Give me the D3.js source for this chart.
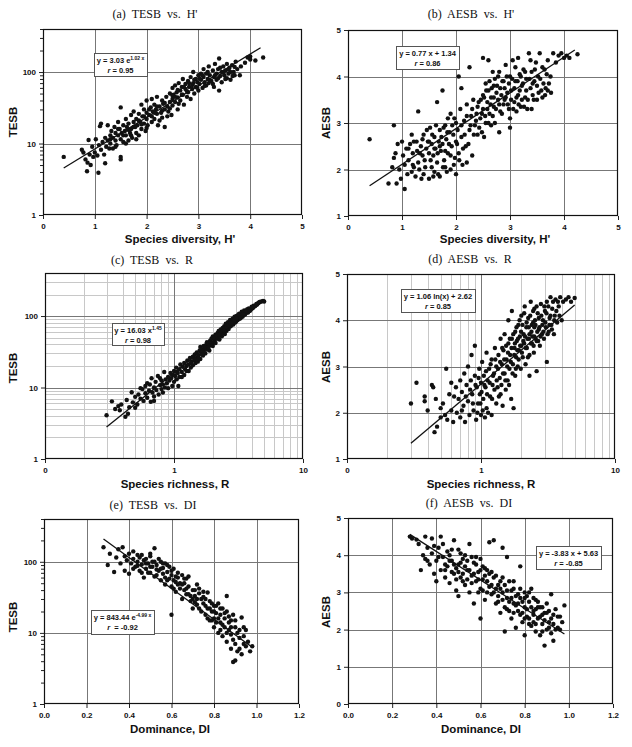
<!DOCTYPE html>
<html><head><meta charset="utf-8">
<script src="https://cdn.jsdelivr.net/npm/d3@7"></script>
<style>
html,body{margin:0;padding:0;background:#fff;}
svg{display:block;}
.tick text{font-family:Arial,"Liberation Sans",sans-serif;font-weight:bold;font-size:8px;fill:#111;}
</style>
</head><body>
<svg id="chart" width="632" height="747"></svg>
<script>
// ---------- tick values / labels ----------
const hTicks = [0,1,2,3,4,5];
const hLabels = ["0","1","2","3","4","5"];
const rTicks = [0.1,1,10];
const rLabels = ["0","1","10"];
const dTicks = [0,0.2,0.4,0.6,0.8,1.0,1.2];
const dLabels = ["0.0","0.2","0.4","0.6","0.8","1.0","1.2"];
const tesbTicks = [1,10,100];
const tesbLabels = ["1","10","100"];
const aesbTicksB = [1,2,3,4,5];
const aesbTicksF = [0,1,2,3,4,5];

// ---------- scatter data ----------
const tesbVsH = [[0.40,6.5],[0.75,8.2],[0.78,7.5],[0.82,6.0],[0.85,4.1],[0.86,5.4],[0.88,11.2],[0.9,7.0],[0.92,5.0],[0.95,9.0],[0.97,6.5],[1.0,7.5],[1.02,11.5],[1.05,6.8],[1.07,3.9],
[1.08,9.5],[1.1,17.5],[1.12,19],[1.12,8.2],[1.15,10.5],[1.18,7.0],[1.2,12],[1.2,5.3],[1.22,9],[1.25,11],[1.25,18],[1.28,8.5],[1.3,13],[1.3,10],[1.32,15],[1.35,12],[1.35,8.5],[1.38,17],[1.4,11],[1.4,14],[1.42,9.5],[1.45,13],[1.45,20],[1.48,16],[1.5,6.0],[1.5,6.5],[1.5,32],[1.5,11.5],[1.52,14],[1.55,18],
[1.55,10.5],[1.58,15],[1.6,13],[1.6,22],[1.62,17],[1.65,11],[1.65,19],[1.68,14],[1.7,25],[1.7,16],[1.72,12],[1.75,20],[1.75,28],[1.78,17],[1.8,14],[1.8,22],[1.82,18],[1.85,26],[1.85,13],[1.88,20],[1.9,35],[1.9,16],[1.92,24],[1.95,19],[1.95,30],[1.98,15],[2.0,22],[2.0,27],[2.0,40],[2.02,18],
[2.05,25],[2.08,32],[2.1,20],[2.1,42],[2.12,28],[2.15,35],[2.15,22],[2.18,30],[2.2,26],[2.2,45],[2.22,18],[2.25,33],[2.28,27],[2.3,40],[2.3,23],[2.32,36],[2.35,30],[2.35,17],[2.38,45],[2.4,33],[2.42,28],[2.45,50],[2.45,38],[2.48,25],[2.5,42],[2.5,60],[2.5,34],
[2.52,48],[2.55,38],[2.55,65],[2.58,52],[2.6,44],[2.6,30],[2.62,70],[2.65,55],[2.65,40],[2.68,62],[2.7,48],[2.7,80],[2.72,35],[2.75,58],[2.75,68],[2.78,45],[2.8,75],[2.8,52],[2.82,62],[2.85,85],[2.85,42],[2.88,58],[2.9,100],[2.9,70],[2.92,50],[2.95,80],[2.95,62],[2.98,72],[3.0,55],[3.0,90],
[3.02,68],[3.05,95],[3.05,78],[3.08,60],[3.1,85],[3.1,110],[3.12,72],[3.15,65],[3.15,95],[3.18,80],[3.2,120],[3.2,70],[3.22,90],[3.25,75],[3.28,105],[3.3,85],[3.3,62],[3.32,130],[3.35,95],[3.35,78],[3.38,110],[3.4,155],[3.4,55],[3.42,88],[3.45,100],[3.45,72],[3.48,120],[3.5,90],
[3.52,105],[3.55,82],[3.55,130],[3.58,95],[3.6,115],[3.62,78],[3.65,125],[3.68,100],[3.7,90],[3.72,140],[3.75,110],[3.8,90],[3.82,120],[3.9,135],[3.95,160],[4.0,165],[4.0,150],[4.1,145],[4.25,160],
[1.3,11.5],[1.4,9],[1.45,16],[1.55,13],[1.6,10],[1.65,15.5],[1.7,13],[1.75,17],[1.8,11.5],[1.85,21],[1.9,18.5],[1.95,24],[2.0,16.5],[2.05,30],[2.1,24],[2.15,27],[2.2,33],[2.25,21],[2.3,29],[2.35,37],[2.4,24],[2.45,31],[2.5,47],[2.55,45],[2.6,56],[2.62,36],[2.68,48],[2.72,62],[2.78,54],[2.82,70],[2.88,66],[2.92,78],[2.98,60],[3.02,82],[3.08,90],[3.12,64],[3.18,100],[3.22,77],[3.28,68],[3.32,90],[3.38,82],[3.42,115],[3.48,98],[3.52,80],[3.58,108],[3.62,100],[3.66,88],[3.7,118]];

const aesbVsH = [[0.40,2.65],[0.75,1.7],[0.82,2.05],[0.85,2.95],[0.85,2.25],[0.88,2.35],[0.9,1.7],[0.92,2.55],[0.95,2.0],[0.98,1.8],[1.0,2.6],[1.02,2.3],[1.05,1.58],[1.05,2.1],[1.08,2.45],[1.1,1.9],[1.12,2.2],[1.15,2.55],[1.18,1.95],[1.2,2.35],[1.2,2.1],[1.22,2.6],[1.25,1.85],[1.28,2.4],[1.3,3.25],[1.3,2.15],[1.32,2.0],[1.35,2.5],[1.38,2.3],[1.4,1.9],[1.4,2.75],[1.42,2.2],[1.45,2.45],[1.48,2.6],[1.5,1.8],[1.5,2.35],[1.52,2.9],[1.55,2.05],[1.55,2.55],[1.58,2.3],[1.6,2.7],[1.6,1.95],[1.62,2.45],[1.65,3.45],[1.65,2.15],[1.68,2.6],[1.7,2.85],[1.7,1.85],[1.72,2.4],[1.75,3.7],[1.75,2.55],[1.78,2.2],[1.8,2.95],[1.8,2.05],[1.82,2.65],[1.85,3.1],[1.85,2.35],[1.88,2.8],[1.9,2.0],[1.9,3.2],[1.92,2.5],[1.95,2.75],[1.98,2.25],[2.0,1.9],[2.0,3.0],[2.02,2.55],[2.05,4.0],[2.05,2.35],[2.08,3.3],[2.1,3.75],[2.1,2.7],[2.12,2.1],[2.15,3.05],[2.18,2.5],[2.2,3.4],[2.2,2.15],[2.25,4.2],[2.25,2.85],[2.28,3.15],[2.3,2.3],[2.32,3.5],[2.35,2.95],[2.38,3.2],[2.4,2.75],[2.42,3.45],[2.45,3.1],[2.48,2.8],[2.5,4.4],[2.5,3.6],[2.5,3.3],[2.52,2.7],[2.55,3.85],[2.55,3.0],[2.58,3.45],[2.6,4.35],[2.6,3.7],[2.62,3.2],[2.65,3.55],[2.65,2.95],[2.68,4.1],[2.7,3.35],[2.7,3.8],[2.72,3.0],[2.75,3.65],[2.78,4.0],[2.8,2.8],[2.8,3.4],[2.82,3.75],[2.85,3.2],[2.88,3.9],[2.9,3.5],[2.92,4.25],[2.95,3.65],[2.98,3.3],[3.0,2.9],[3.0,3.1],[3.0,4.0],[3.02,3.7],[3.05,4.35],[3.08,3.45],[3.1,3.9],[3.12,3.25],[3.15,4.4],[3.15,3.6],[3.18,4.05],[3.2,3.35],[3.22,3.8],[3.25,4.15],[3.28,3.55],[3.3,3.95],[3.32,3.3],[3.35,4.5],[3.38,3.75],[3.4,3.3],[3.4,4.1],[3.42,3.6],[3.45,3.9],[3.48,4.3],[3.5,3.5],[3.52,4.0],[3.55,4.5],[3.58,3.7],[3.6,4.2],[3.62,3.85],[3.65,3.6],[3.68,4.05],[3.7,3.7],[3.75,4.0],[3.8,4.5],[3.85,4.3],[3.9,4.45],[3.95,4.5],[4.0,4.4],[4.05,4.45],[4.1,4.4],[4.25,4.48],
[1.12,2.45],[1.18,2.75],[1.22,2.05],[1.27,2.6],[1.33,2.35],[1.36,1.8],[1.38,2.65],[1.43,2.05],[1.46,2.85],[1.5,2.6],[1.53,2.2],[1.56,2.75],[1.58,1.85],[1.6,2.45],[1.63,2.95],[1.66,2.35],[1.67,1.9],[1.7,2.5],[1.73,2.7],[1.76,2.05],[1.77,2.9],[1.8,2.4],[1.83,1.95],[1.84,2.8],[1.87,2.55],[1.9,2.3],[1.93,2.95],[1.96,2.1],[1.97,3.1],[2.0,2.6],[2.03,2.85],[2.06,2.2],[2.1,2.95],[2.13,2.45],[2.16,2.75],[2.2,3.15],[2.23,2.55],[2.27,2.95],[2.3,3.3],[2.33,2.75],[2.37,3.05],[2.4,3.35],[2.43,2.9],[2.46,3.5],[2.48,3.2],[2.52,3.55],[2.54,3.15],[2.56,3.7],[2.58,3.3],[2.6,3.0],[2.62,3.9],[2.64,3.4],[2.66,3.75],[2.68,3.15],[2.7,3.55],[2.72,3.95],[2.74,3.3],[2.76,3.8],[2.78,3.5],[2.8,4.1],[2.82,3.25],[2.84,3.6],[2.86,3.9],[2.88,3.4],[2.9,3.75],[2.92,3.55],[2.94,4.0],[2.96,3.4],[2.98,3.85],[3.02,3.5],[3.04,3.95],[3.06,3.3],[3.08,3.75],[3.1,4.2],[3.12,3.55],[3.14,3.9],[3.16,3.4],[3.18,3.7],[3.2,4.0],[3.22,3.5],[3.24,3.85],[3.26,3.35],[3.28,4.1],[3.3,3.7],[3.33,3.5],[3.36,3.95],[3.38,4.35],[3.42,3.85],[3.44,3.5],[3.46,4.15],[3.5,3.8],[3.53,3.65],[3.56,3.95],[3.6,3.55],[3.64,4.15],[3.66,3.75],[3.7,4.35],[3.72,3.85],[3.76,3.65]];

const tesbVsR = [[0.30,4.1],[0.33,6.4],[0.37,5.5],[0.38,4.8],[0.39,5.8],[0.42,3.9],[0.43,6.7],[0.45,5.3],[0.47,8.6],[0.48,6.2],[0.5,7.4],[0.52,5.8],[0.53,8.0],[0.55,7.0],[0.57,9.5],[0.58,6.5],[0.6,8.3],[0.6,10.5],[0.62,7.2],[0.64,9.0],[0.65,11],[0.66,6.3],[0.68,8.5],[0.7,10],[0.7,7.5],[0.72,12],[0.73,9.2],[0.75,14.5],[0.76,8.0],[0.78,10.8],[0.8,9.5],[0.8,12.5],[0.82,11],[0.84,16.5],[0.85,10],[0.86,13],[0.88,11.5],[0.9,14],[0.9,9.8],[0.92,12.5],[0.94,16],[0.95,13.5],[0.97,10.5],[0.98,15],[1.0,17],[1.0,12],[1.02,14.5],[1.04,19],[1.05,13],[1.07,16],[1.08,10.5],[1.1,18],[1.1,14],[1.12,21],[1.15,16.5],[1.17,19.5],[1.2,15],[1.2,22],[1.22,18],[1.25,20],[1.27,24],[1.3,17],[1.3,21],[1.33,26],[1.35,19],[1.37,23],[1.4,20.5],[1.4,27],[1.43,24],[1.45,29],[1.47,22],[1.5,26],[1.5,31],[1.53,23],[1.55,28],[1.58,33],[1.6,25],[1.6,37],[1.63,30],[1.65,34],[1.68,28],[1.7,32],[1.7,38],[1.73,35],[1.75,30],[1.78,40],[1.8,34],[1.8,43],[1.83,37],[1.85,41],[1.88,33],[1.9,45],[1.92,39],[1.95,48],[1.98,42],[2.0,38],[2.0,52],[2.05,45],[2.08,50],[2.1,55],[2.1,42],[2.15,48],[2.18,58],[2.2,52],[2.22,62],[2.25,47],[2.28,55],[2.3,65],[2.32,58],[2.35,52],[2.38,68],[2.4,60],[2.45,72],[2.48,56],[2.5,65],[2.52,78],[2.55,62],[2.6,70],[2.62,82],[2.65,66],[2.7,76],[2.72,88],[2.75,72],[2.8,80],[2.85,92],[2.88,76],[2.9,85],[2.95,98],[3.0,82],[3.0,90],[3.05,100],[3.1,88],[3.15,96],[3.2,108],[3.25,92],[3.3,102],[3.35,115],[3.4,98],[3.45,110],[3.5,120],[3.55,105],[3.6,115],[3.7,125],[3.75,112],[3.8,128],[3.9,120],[4.0,135],[4.05,128],[4.15,140],[4.25,138],[4.35,148],[4.5,152],[4.6,158],[4.75,160],[4.9,162],[5.0,160],
[1.05,16.5],[1.15,14],[1.25,17],[1.35,22],[1.45,25],[1.55,25],[1.65,29],[1.75,36],[1.85,36],[1.95,40],[2.05,50],[2.15,53],[2.25,55],[2.35,60],[2.45,63],[2.55,70],[2.65,75],[2.75,80],[2.85,80],[2.95,88],[3.05,95],[3.15,104],[3.3,95],[3.45,104],[3.65,120],[3.85,118],[4.1,132],[4.4,145],
[0.35,5.0],[0.44,4.3],[0.5,5.2],[0.55,9.8],[0.62,11.5],[0.67,13.5],[0.7,6.5],[0.78,13.5],[0.82,8.5]];

const aesbVsR = [[0.30,2.2],[0.33,2.65],[0.38,2.35],[0.38,2.25],[0.4,2.05],[0.43,2.6],[0.44,2.55],[0.45,1.58],[0.46,2.3],[0.47,1.7],[0.5,1.9],[0.5,2.1],[0.52,2.2],[0.54,1.95],[0.55,2.95],[0.56,1.85],[0.58,2.4],[0.6,2.65],[0.6,2.05],[0.62,1.8],[0.63,2.35],[0.65,2.55],[0.66,2.0],[0.68,2.3],[0.7,2.7],[0.7,1.9],[0.72,2.45],[0.74,2.15],[0.75,2.85],[0.76,1.8],[0.78,2.6],[0.8,2.25],[0.8,3.0],[0.82,1.95],[0.84,2.7],[0.85,3.25],[0.86,2.4],[0.88,2.05],[0.9,3.45],[0.9,2.8],[0.92,1.85],[0.93,2.55],[0.95,2.2],[0.97,2.95],[0.98,2.4],[1.0,2.65],[1.0,1.95],[1.02,3.1],[1.04,2.3],[1.05,2.8],[1.07,1.9],[1.08,2.55],[1.1,3.3],[1.1,2.1],[1.12,2.7],[1.15,2.95],[1.17,2.35],[1.2,3.15],[1.2,1.95],[1.22,2.6],[1.25,2.85],[1.27,3.4],[1.3,2.2],[1.3,3.0],[1.33,2.55],[1.35,3.25],[1.38,2.75],[1.4,3.6],[1.4,2.4],[1.43,3.05],[1.45,2.15],[1.47,3.35],[1.5,2.85],[1.5,3.7],[1.53,2.5],[1.55,3.15],[1.58,2.7],[1.6,3.5],[1.6,4.0],[1.63,2.95],[1.65,3.25],[1.68,2.3],[1.7,4.2],[1.7,3.6],[1.73,3.05],[1.75,2.1],[1.78,3.4],[1.8,2.8],[1.8,3.75],[1.83,3.2],[1.85,3.55],[1.88,3.0],[1.9,3.9],[1.92,3.35],[1.95,3.65],[1.98,2.95],[2.0,3.45],[2.0,4.1],[2.05,3.2],[2.08,3.7],[2.1,3.5],[2.12,4.3],[2.15,3.05],[2.18,3.85],[2.2,3.4],[2.25,4.05],[2.28,3.6],[2.3,2.8],[2.3,3.25],[2.35,4.4],[2.38,3.75],[2.4,3.5],[2.45,3.95],[2.48,3.3],[2.5,4.25],[2.5,3.65],[2.55,3.9],[2.6,2.9],[2.6,3.55],[2.65,4.15],[2.7,3.8],[2.75,3.45],[2.8,4.35],[2.85,3.7],[2.9,4.0],[2.95,3.6],[3.0,4.2],[3.05,3.85],[3.1,3.1],[3.1,4.4],[3.2,3.75],[3.25,4.05],[3.3,4.5],[3.35,3.9],[3.4,4.25],[3.5,3.7],[3.55,4.1],[3.6,4.45],[3.7,3.95],[3.8,4.3],[3.9,4.5],[4.0,4.0],[4.1,4.4],[4.3,4.45],[4.5,4.5],[4.7,4.4],[5.0,4.48],
[0.72,2.05],[0.77,2.35],[0.83,2.5],[0.87,2.2],[0.91,2.6],[0.94,2.0],[0.96,2.75],[0.99,2.2],[1.01,2.45],[1.03,2.05],[1.06,2.6],[1.09,2.9],[1.11,2.4],[1.13,2.0],[1.16,2.65],[1.18,3.05],[1.21,2.3],[1.23,2.8],[1.26,2.5],[1.28,3.15],[1.31,2.7],[1.34,2.95],[1.36,2.35],[1.39,3.1],[1.42,2.6],[1.44,3.4],[1.46,2.85],[1.49,3.15],[1.52,2.7],[1.54,3.45],[1.57,3.0],[1.59,3.3],[1.62,2.6],[1.64,3.6],[1.67,3.1],[1.69,3.4],[1.72,2.85],[1.74,3.7],[1.77,3.25],[1.79,3.5],[1.82,2.95],[1.84,3.85],[1.87,3.35],[1.89,3.6],[1.91,3.15],[1.94,4.0],[1.96,3.45],[1.99,3.75],[2.02,3.3],[2.04,3.9],[2.07,3.55],[2.1,4.15],[2.13,3.65],[2.16,3.4],[2.19,3.95],[2.22,3.6],[2.24,3.2],[2.27,3.85],[2.3,3.7],[2.33,4.1],[2.36,3.5],[2.39,3.9],[2.42,3.65],[2.45,4.2],[2.47,3.45],[2.5,3.85],[2.53,4.0],[2.56,3.6],[2.6,4.3],[2.63,3.75],[2.67,3.55],[2.7,4.05],[2.73,3.85],[2.78,3.65],[2.82,4.1],[2.87,3.9],[2.92,3.75],[2.97,4.3],[3.02,3.95],[3.08,4.15],[3.14,3.7],[3.18,4.3],[3.24,3.9],[3.3,4.1],[3.38,3.8],[3.45,4.4],[3.52,4.0],[3.65,4.2],[3.75,4.4],[3.85,4.1]];

const tesbVsDI = [[0.28,160],[0.30,90],[0.31,130],[0.33,72],[0.34,115],[0.35,150],[0.36,95],[0.37,160],[0.38,75],[0.38,120],[0.39,105],[0.4,130],[0.4,68],[0.41,95],[0.42,140],[0.42,110],[0.43,85],[0.44,100],[0.45,115],[0.45,75],[0.46,92],[0.47,60],[0.47,105],[0.48,80],[0.49,95],[0.5,120],[0.5,70],[0.5,130],[0.51,85],[0.52,155],[0.52,62],[0.53,90],[0.54,75],[0.55,100],[0.55,55],[0.56,68],[0.56,82],[0.57,48],[0.58,72],[0.58,90],[0.59,58],[0.6,65],[0.6,18],[0.6,45],[0.61,80],[0.62,52],[0.62,38],[0.63,60],[0.64,42],[0.65,65],[0.65,30],[0.66,50],[0.67,35],[0.67,58],[0.68,45],[0.69,28],[0.7,40],[0.7,22],[0.71,33],[0.72,48],[0.72,25],[0.73,36],[0.74,20],[0.74,30],[0.75,26],[0.75,38],[0.76,18],[0.77,37],[0.77,22],[0.78,15],[0.78,28],[0.79,20],[0.8,24],[0.8,12],[0.8,16],[0.81,19],[0.82,10],[0.82,26],[0.83,14],[0.83,18],[0.84,9],[0.84,22],[0.85,12],[0.85,16],[0.86,33],[0.86,7.5],[0.87,11],[0.87,14],[0.88,6],[0.88,9.5],[0.89,3.9],[0.89,18],[0.9,4.1],[0.9,7],[0.9,12],[0.91,5.5],[0.92,8.5],[0.92,6],[0.93,16.5],[0.93,5],[0.94,9],[0.95,11],[0.95,6.5],[0.96,7.5],[0.98,6.5],
[0.44,88],[0.46,125],[0.48,110],[0.49,70],[0.51,100],[0.53,78],[0.54,110],[0.57,95],[0.59,85],[0.61,55],[0.63,70],[0.64,50],[0.66,40],[0.68,62],[0.69,33],[0.71,27],[0.73,42],[0.76,30],[0.79,26],[0.81,14],[0.83,22],[0.84,13],[0.86,20],[0.88,15],[0.91,10],[0.94,12],[0.97,5.5],
[0.42,80],[0.44,125],[0.46,70],[0.48,95],[0.5,85],[0.52,100],[0.53,65],[0.55,80],[0.56,95],[0.57,60],[0.58,55],[0.6,75],[0.61,42],[0.62,62],[0.63,48],[0.65,48],[0.66,58],[0.67,42],[0.68,35],[0.7,30],[0.71,40],[0.72,30],[0.73,22],[0.75,32],[0.76,24],[0.77,16],[0.78,22],[0.79,15],[0.8,20],[0.81,24],[0.82,16],[0.83,11],[0.85,19],[0.86,10],[0.87,17],[0.88,12],[0.89,8],[0.9,15],[0.92,11],[0.94,7]];

const aesbVsDI = [[0.28,4.5],[0.29,4.45],[0.31,4.42],[0.32,4.3],[0.33,3.6],[0.34,4.0],[0.35,4.5],[0.35,3.9],[0.36,4.2],[0.37,3.75],[0.38,4.45],[0.38,4.05],[0.39,3.5],[0.4,3.3],[0.4,3.85],[0.41,4.2],[0.42,4.5],[0.42,3.6],[0.43,3.95],[0.44,3.4],[0.45,4.1],[0.45,3.7],[0.46,3.25],[0.47,3.85],[0.48,4.4],[0.48,3.5],[0.49,3.05],[0.5,3.75],[0.5,2.9],[0.5,4.15],[0.51,3.4],[0.52,3.9],[0.53,3.2],[0.54,3.6],[0.55,4.3],[0.55,3.0],[0.56,3.45],[0.57,2.7],[0.57,3.8],[0.58,3.3],[0.59,3.55],[0.6,2.3],[0.6,3.1],[0.6,3.9],[0.61,3.35],[0.62,2.8],[0.63,3.6],[0.64,4.35],[0.64,3.15],[0.65,2.95],[0.66,4.4],[0.66,3.4],[0.67,2.7],[0.68,3.2],[0.69,2.45],[0.7,4.2],[0.7,3.0],[0.71,2.6],[0.71,1.95],[0.72,3.95],[0.72,2.85],[0.73,3.3],[0.74,2.3],[0.75,2.7],[0.75,3.1],[0.76,2.05],[0.77,2.5],[0.78,3.7],[0.78,2.85],[0.79,2.2],[0.8,2.6],[0.8,1.85],[0.8,3.0],[0.81,2.35],[0.82,2.75],[0.83,2.1],[0.83,3.1],[0.84,2.5],[0.85,1.95],[0.85,2.8],[0.86,2.3],[0.87,2.6],[0.87,1.85],[0.88,2.15],[0.89,1.57],[0.89,2.45],[0.9,2.0],[0.9,2.7],[0.91,2.2],[0.92,2.95],[0.92,1.9],[0.93,1.7],[0.93,2.4],[0.94,2.55],[0.95,2.05],[0.96,2.35],[0.98,2.65],
[0.44,3.75],[0.46,4.0],[0.47,3.55],[0.49,3.65],[0.51,4.05],[0.52,3.5],[0.53,3.7],[0.54,3.35],[0.56,3.95],[0.58,3.75],[0.59,3.0],[0.61,3.7],[0.62,3.45],[0.63,3.0],[0.65,3.55],[0.67,3.1],[0.68,2.9],[0.69,3.3],[0.72,2.55],[0.73,2.75],[0.74,3.05],[0.76,2.65],[0.77,2.95],[0.79,2.45],[0.81,2.9],[0.82,2.3],[0.84,2.2],[0.86,2.6],[0.88,2.4],[0.91,2.5],
[0.36,3.85],[0.39,4.25],[0.41,3.95],[0.43,4.3],[0.44,3.6],[0.46,3.85],[0.47,4.15],[0.48,3.75],[0.49,3.35],[0.5,3.55],[0.51,3.8],[0.52,3.3],[0.53,4.0],[0.54,3.85],[0.55,3.6],[0.56,3.25],[0.57,3.5],[0.58,3.95],[0.59,3.35],[0.6,3.6],[0.61,3.05],[0.62,3.65],[0.63,3.3],[0.64,3.5],[0.65,3.2],[0.66,3.0],[0.67,3.45],[0.68,2.75],[0.69,3.1],[0.7,2.8],[0.7,3.4],[0.71,3.2],[0.72,3.05],[0.73,2.5],[0.74,2.85],[0.75,2.45],[0.75,3.3],[0.76,2.9],[0.77,2.7],[0.78,2.4],[0.78,3.1],[0.79,2.75],[0.8,2.3],[0.8,2.85],[0.81,2.55],[0.82,2.15],[0.82,3.0],[0.83,2.6],[0.84,2.4],[0.84,2.85],[0.85,2.55],[0.85,2.15],[0.86,2.75],[0.87,2.35],[0.88,2.6],[0.88,1.95],[0.89,2.25],[0.9,2.45],[0.91,2.05],[0.92,2.3],[0.93,2.15],[0.94,2.0],[0.95,2.35],[0.96,2.0],[0.97,2.2]];

// ---------- fitted trend line end points (from the printed equations) ----------
const fitA = [[0.4,4.55],[4.2,219]];
const fitB = [[0.4,1.65],[4.2,4.57]];
const fitC = [[0.3,2.8],[5.0,165]];
const fitD = [[0.3,1.34],[5.0,4.33]];
const fitE = [[0.28,209],[0.98,6.3]];
const fitF = [[0.28,4.56],[0.98,1.88]];

// ---------- annotation texts ----------
const eqA = ["y = 3.03 e", "1.02 x"], rA = " = 0.95";
const eqB = ["y = 0.77 x + 1.34", ""], rB = " = 0.86";
const eqC = ["y = 16.03 x", "1.45"], rC = " = 0.98";
const eqD = ["y = 1.06 ln(x) + 2.62", ""], rD = " = 0.85";
const eqE = ["y = 843.44 e", "-4.99 x"], rE = "  = -0.92";
const eqF = ["y = -3.83 x + 5.63", ""], rF = " = -0.85";

const logMinor = (lo, hi) => { const out=[]; for (let e=lo;e<hi;e++){ for(let m=2;m<=9;m++){ out.push(+(m*Math.pow(10,e)).toPrecision(3)); } } return out; };

const panels = [
 {title:"(a)  TESB  vs.  H'", tx:155, ty:18, box:[43,29,302,215], xLog:false, xDom:[0,5], xT:hTicks, xL:hLabels,
  yLog:true, yDom:[1,400], yT:tesbTicks, yL:tesbLabels, yMinorTicks:logMinor(0,3).filter(v=>v<=400),
  xTitle:"Species diversity, H'", xtx:180, xty:243, yTitle:"TESB", ytx:13, yty:122,
  pts:tesbVsH, fit:fitA, eq:eqA, r:rA, ann:[94,53,147,76]},
 {title:"(b)  AESB  vs.  H'", tx:471, ty:18, box:[348,30,618,216], xLog:false, xDom:[0,5], xT:hTicks, xL:hLabels,
  yLog:false, yDom:[1,5], yT:aesbTicksB, yL:aesbTicksB.map(String),
  xTitle:"Species diversity, H'", xtx:495, xty:243, yTitle:"AESB", ytx:326, yty:123,
  pts:aesbVsH, fit:fitB, eq:eqB, r:rB, ann:[396,46,459,69]},
 {title:"(c)  TESB  vs.  R", tx:152, ty:264, box:[45,273,303,459], xLog:true, xDom:[0.1,10], xT:rTicks, xL:rLabels,
  xMinorGrid:logMinor(-1,1), yLog:true, yDom:[1,400], yT:tesbTicks, yL:tesbLabels, yMinorGrid:logMinor(0,3).filter(v=>v<=400),
  xTitle:"Species richness, R", xtx:175, xty:488, yTitle:"TESB", ytx:13, yty:368,
  pts:tesbVsR, fit:fitC, eq:eqC, r:rC, ann:[112,323,164,345]},
 {title:"(d)  AESB  vs.  R", tx:470, ty:263, box:[347,274,615,459], xLog:true, xDom:[0.1,10], xT:rTicks, xL:rLabels,
  xMinorGrid:logMinor(-1,1), yLog:false, yDom:[1,5], yT:aesbTicksB, yL:aesbTicksB.map(String),
  xTitle:"Species richness, R", xtx:481, xty:488, yTitle:"AESB", ytx:326, yty:367,
  pts:aesbVsR, fit:fitD, eq:eqD, r:rD, ann:[401,289,475,312]},
 {title:"(e)  TESB  vs.  DI", tx:153, ty:509, box:[44,519,299,704], xLog:false, xDom:[0,1.2], xT:dTicks, xL:dLabels,
  yLog:true, yDom:[1,400], yT:tesbTicks, yL:tesbLabels, yMinorTicks:logMinor(0,3).filter(v=>v<=400),
  xTitle:"Dominance, DI", xtx:170, xty:733, yTitle:"TESB", ytx:13, yty:617,
  pts:tesbVsDI, fit:fitE, eq:eqE, r:rE, ann:[91,610,154,634]},
 {title:"(f)  AESB  vs.  DI", tx:469, ty:507, box:[348,518,613,704], xLog:false, xDom:[0,1.2], xT:dTicks, xL:dLabels,
  yLog:false, yDom:[0,5], yT:aesbTicksF, yL:aesbTicksF.map(String),
  xTitle:"Dominance, DI", xtx:481, xty:733, yTitle:"AESB", ytx:326, yty:612,
  pts:aesbVsDI, fit:fitF, eq:eqF, r:rF, ann:[536,546,601,569]}
];

const svg = d3.select("#chart");
svg.append("rect").attr("width",632).attr("height",747).attr("fill","#fff");
const sans = "Arial,'Liberation Sans',sans-serif";

panels.forEach(p => {
  const [x0,y0,x1,y1] = p.box;
  const x = (p.xLog ? d3.scaleLog() : d3.scaleLinear()).domain(p.xDom).range([x0,x1]);
  const y = (p.yLog ? d3.scaleLog() : d3.scaleLinear()).domain(p.yDom).range([y1,y0]);
  const g = svg.append("g");

  if (p.xMinorGrid) g.selectAll(null).data(p.xMinorGrid).join("line")
     .attr("x1",d=>Math.round(x(d))+0.5).attr("x2",d=>Math.round(x(d))+0.5).attr("y1",y0).attr("y2",y1)
     .attr("stroke","#c8c8c8").attr("stroke-width",1);
  if (p.yMinorGrid) g.selectAll(null).data(p.yMinorGrid).join("line")
     .attr("y1",d=>Math.round(y(d))+0.5).attr("y2",d=>Math.round(y(d))+0.5).attr("x1",x0).attr("x2",x1)
     .attr("stroke","#c8c8c8").attr("stroke-width",1);
  g.selectAll(null).data(p.xT.filter(v=>x(v)>x0+1 && x(v)<x1-1)).join("line")
     .attr("x1",d=>Math.round(x(d))+0.5).attr("x2",d=>Math.round(x(d))+0.5).attr("y1",y0).attr("y2",y1)
     .attr("stroke","#777").attr("stroke-width",1);
  g.selectAll(null).data(p.yT.filter(v=>y(v)<y1-1 && y(v)>y0+1)).join("line")
     .attr("y1",d=>Math.round(y(d))+0.5).attr("y2",d=>Math.round(y(d))+0.5).attr("x1",x0).attr("x2",x1)
     .attr("stroke","#777").attr("stroke-width",1);

  const xa = g.append("g").attr("transform",`translate(0,${y1})`)
     .call(d3.axisBottom(x).tickValues(p.xT).tickFormat((d,i)=>p.xL[i]).tickSize(4).tickPadding(4));
  const ya = g.append("g").attr("transform",`translate(${x0},0)`)
     .call(d3.axisLeft(y).tickValues(p.yT).tickFormat((d,i)=>p.yL[i]).tickSize(4).tickPadding(3));
  [xa,ya].forEach(a=>{ a.select(".domain").remove(); a.selectAll(".tick line").attr("stroke","#222"); });
  if (p.yMinorTicks) {
    const ym = g.append("g").attr("transform",`translate(${x0},0)`)
      .call(d3.axisLeft(y).tickValues(p.yMinorTicks).tickFormat("").tickSize(3));
    ym.select(".domain").remove(); ym.selectAll(".tick line").attr("stroke","#222");
  }

  g.append("rect").attr("x",x0+0.5).attr("y",y0+0.5).attr("width",x1-x0-1).attr("height",y1-y0-1)
   .attr("fill","none").attr("stroke","#111").attr("stroke-width",1.2);

  g.selectAll(null).data(p.pts).join("circle")
   .attr("cx",d=>x(d[0])).attr("cy",d=>y(d[1])).attr("r",2.2).attr("fill","#111");

  g.append("path").datum(p.fit)
   .attr("d", d3.line().x(d=>x(d[0])).y(d=>y(d[1])))
   .attr("stroke","#111").attr("stroke-width",1.3).attr("fill","none");

  const [ax0,ay0,ax1,ay1] = p.ann;
  g.append("rect").attr("x",ax0+0.5).attr("y",ay0+0.5).attr("width",ax1-ax0).attr("height",ay1-ay0)
   .attr("fill","#fff").attr("stroke","#555").attr("stroke-width",1);
  const cx = (ax0+ax1)/2;
  const t1 = g.append("text").attr("x",cx).attr("y",ay0+9.5).attr("text-anchor","middle")
   .attr("font-family",sans).attr("font-weight","bold").attr("font-size","7.5px").attr("fill","#111");
  t1.append("tspan").text(p.eq[0]);
  if (p.eq[1]) t1.append("tspan").attr("dy",-3).attr("font-size","5px").text(p.eq[1]);
  const t2 = g.append("text").attr("x",cx).attr("y",ay0+19.5).attr("text-anchor","middle")
   .attr("font-family",sans).attr("font-weight","bold").attr("font-size","7.5px").attr("fill","#111")
   .attr("xml:space","preserve").style("white-space","pre");
  t2.append("tspan").attr("font-style","italic").text("r");
  t2.append("tspan").text(p.r);

  svg.append("text").attr("x",p.tx).attr("y",p.ty).attr("text-anchor","middle")
   .attr("font-family","'Liberation Serif','Times New Roman',serif").attr("font-size","12px").attr("fill","#111")
   .attr("xml:space","preserve").style("white-space","pre").text(p.title);
  svg.append("text").attr("x",p.xtx).attr("y",p.xty).attr("text-anchor","middle")
   .attr("font-family",sans).attr("font-weight","bold").attr("font-size","11.5px").attr("fill","#111")
   .text(p.xTitle);
  svg.append("text").attr("transform",`translate(${p.ytx+4},${p.yty}) rotate(-90)`).attr("text-anchor","middle")
   .attr("font-family",sans).attr("font-weight","bold").attr("font-size","11.5px").attr("fill","#111")
   .text(p.yTitle);
});
</script>
</body></html>
